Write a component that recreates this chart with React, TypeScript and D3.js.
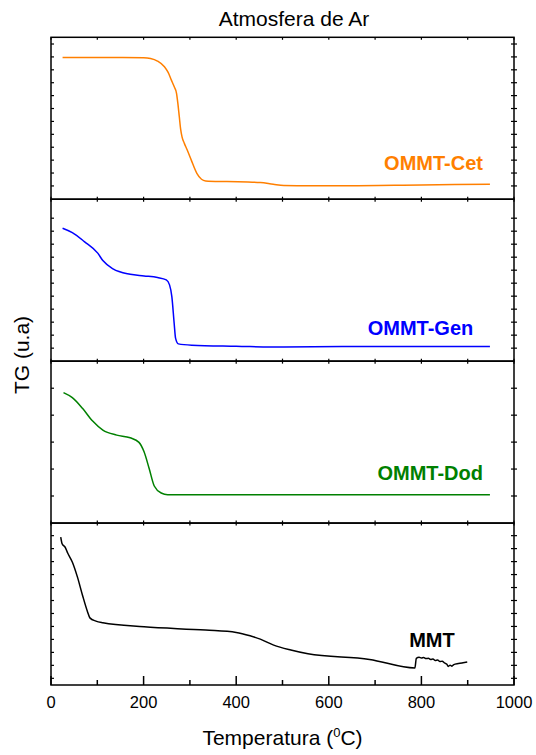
import React from "react";
import * as d3 from "d3";

// ---- data ----
const cetT = [25, 120, 200, 215, 230, 245, 253, 260, 266, 271, 274, 277, 280, 283, 288, 294, 303, 315, 325, 334, 380, 452, 480, 503, 560, 629, 800, 948];
const cetV = [99.5, 99.5, 99.4, 98.8, 96.8, 92.4, 88.0, 82.0, 77.0, 72.0, 64.0, 54.0, 44.0, 38.0, 33.0, 28.0, 20.0, 9.8, 5.2, 3.9, 3.4, 2.6, 1.3, 0.4, 0.2, 0.2, 0.8, 1.3];

const genT = [25, 46, 72, 101, 112, 134, 171, 201, 230, 249, 256, 261, 266, 269, 275, 304, 400, 503, 629, 800, 948];
const genV = [92.3, 88.9, 82.0, 73.1, 67.4, 61.0, 56.9, 55.6, 54.3, 52.5, 48.7, 39.7, 19.2, 7.7, 3.3, 2.3, 1.5, 0.8, 1.2, 1.2, 1.2];

const dodT = [27, 46, 68, 90, 112, 142, 171, 190, 201, 212, 223, 238, 252, 400, 600, 800, 948];
const dodV = [76.7, 73.0, 65.1, 55.6, 48.9, 45.2, 43.2, 39.8, 32.8, 20.4, 7.4, 2.2, 1.0, 1.0, 1.0, 1.0, 1.0];

const mmtT = [21, 24, 31, 36, 46, 57, 68, 79, 84, 97, 112, 201, 334, 400, 430, 452, 481, 518, 555, 688, 786, 789, 795, 800, 805, 810, 815, 820, 825, 830, 835, 840, 845, 850, 855, 858, 862, 866, 870, 880, 890, 899];
const mmtV = [108.9, 103.8, 100.8, 96.6, 89.7, 78.2, 64.1, 51.2, 46.6, 44.1, 42.8, 39.7, 37.2, 35.4, 32.8, 30.2, 25.6, 21.8, 18.9, 14.6, 8.0, 15.4, 16.2, 15.6, 16.0, 15.2, 15.5, 14.6, 14.9, 13.8, 14.1, 12.9, 13.2, 11.9, 10.8, 9.2, 10.1, 9.4, 10.6, 11.4, 12.0, 12.5];

const seriesNames = ["OMMT-Cet", "OMMT-Gen", "OMMT-Dod", "MMT"];
const seriesColors = ["#ff7f00", "#0000ff", "#008000", "#000000"];
const seriesT = [cetT, genT, dodT, mmtT];
const seriesV = [cetV, genV, dodV, mmtV];
const yDomains: [number, number][] = [[-10.3, 115.2], [-10, 114.6], [-20.1, 100.1], [-5.15, 119.7]];
const yTickStep = [10, 10, 20, 10];
const yTickMax = [110, 100, 80, 110];
// label anchor positions in data units (temperature, value)
const labelT = [933, 912, 933, 872];
const labelV = [12, 10, 12, 24];

const xTickLabels = [0, 200, 400, 600, 800, 1000];
const xMinorTicks = d3.range(0, 1001, 100);

const title = "Atmosfera de Ar";
const xTitle = "Temperatura (";
const yTitle = "TG (u.a)";

const W = 536;
const H = 755;
const left = 51;
const right = 514;
const plotTop = 37.3;
const plotBottom = 685;
const FONT = "'Liberation Sans', Arial, Helvetica, sans-serif";

export default function App() {
  const x = d3.scaleLinear().domain([0, 1000]).range([left, right]);
  const panelH = (plotBottom - plotTop) / 4;

  const panels = seriesNames.map((name, i) => {
    const top = plotTop + i * panelH;
    const bottom = top + panelH;
    const y = d3.scaleLinear().domain(yDomains[i]).range([bottom, top]);
    const pts: [number, number][] = seriesT[i].map((t, k) => [t, seriesV[i][k]]);
    const line = d3
      .line<[number, number]>()
      .x((d) => x(d[0]))
      .y((d) => y(d[1]))
      .curve(d3.curveMonotoneX);
    const yTicks = d3.range(0, yTickMax[i] + 0.001, yTickStep[i]);
    const isLast = i === 3;
    return (
      <g key={name}>
        <path d={line(pts) || ""} fill="none" stroke={seriesColors[i]} strokeWidth={1.5} strokeLinejoin="round" />
        {yTicks.map((v) => (
          <g key={"yt" + v}>
            <line x1={left} x2={left + 3} y1={y(v)} y2={y(v)} stroke="#000" strokeWidth={1.2} />
            <line x1={right - 3} x2={right + 3} y1={y(v)} y2={y(v)} stroke="#000" strokeWidth={1.2} />
          </g>
        ))}
        {xMinorTicks.map((t) => (
          <g key={"xt" + t}>
            <line x1={x(t)} x2={x(t)} y1={top} y2={top + 2.5} stroke="#000" strokeWidth={1.2} />
            {!isLast && <line x1={x(t)} x2={x(t)} y1={bottom - 2.5} y2={bottom} stroke="#000" strokeWidth={1.2} />}
            {isLast && (
              <line x1={x(t)} x2={x(t)} y1={bottom - (t % 200 === 0 ? 9 : 5)} y2={bottom} stroke="#000" strokeWidth={1.5} />
            )}
          </g>
        ))}
        <rect x={left} y={top} width={right - left} height={panelH} fill="none" stroke="#000" strokeWidth={1.5} />
        <text
          x={x(labelT[i])}
          y={y(labelV[i])}
          textAnchor="end"
          fontFamily={FONT}
          fontWeight="bold"
          fontSize={20}
          fill={seriesColors[i]}
        >
          {name}
        </text>
      </g>
    );
  });

  return (
    <svg
      width={W}
      height={H}
      viewBox={`0 0 ${W} ${H}`}
      style={{ position: "absolute", left: 0, top: 0, display: "block", background: "#fff" }}
    >
      <rect x={0} y={0} width={W} height={H} fill="#fff" />
      <text x={294} y={25.7} textAnchor="middle" fontFamily={FONT} fontSize={21} fill="#000">
        {title}
      </text>
      {panels}
      {xTickLabels.map((t) => (
        <text key={"xl" + t} x={x(t)} y={708.3} textAnchor="middle" fontFamily={FONT} fontSize={16.5} fill="#000">
          {t}
        </text>
      ))}
      <text x={(left + right) / 2} y={745} textAnchor="middle" fontFamily={FONT} fontSize={21} fill="#000">
        {xTitle}
        <tspan fontSize={13} dy={-8}>0</tspan>
        <tspan dy={8}>C)</tspan>
      </text>
      <text
        transform={`translate(29,355) rotate(-90)`}
        textAnchor="middle"
        fontFamily={FONT}
        fontSize={21}
        fill="#000"
      >
        {yTitle}
      </text>
    </svg>
  );
}
